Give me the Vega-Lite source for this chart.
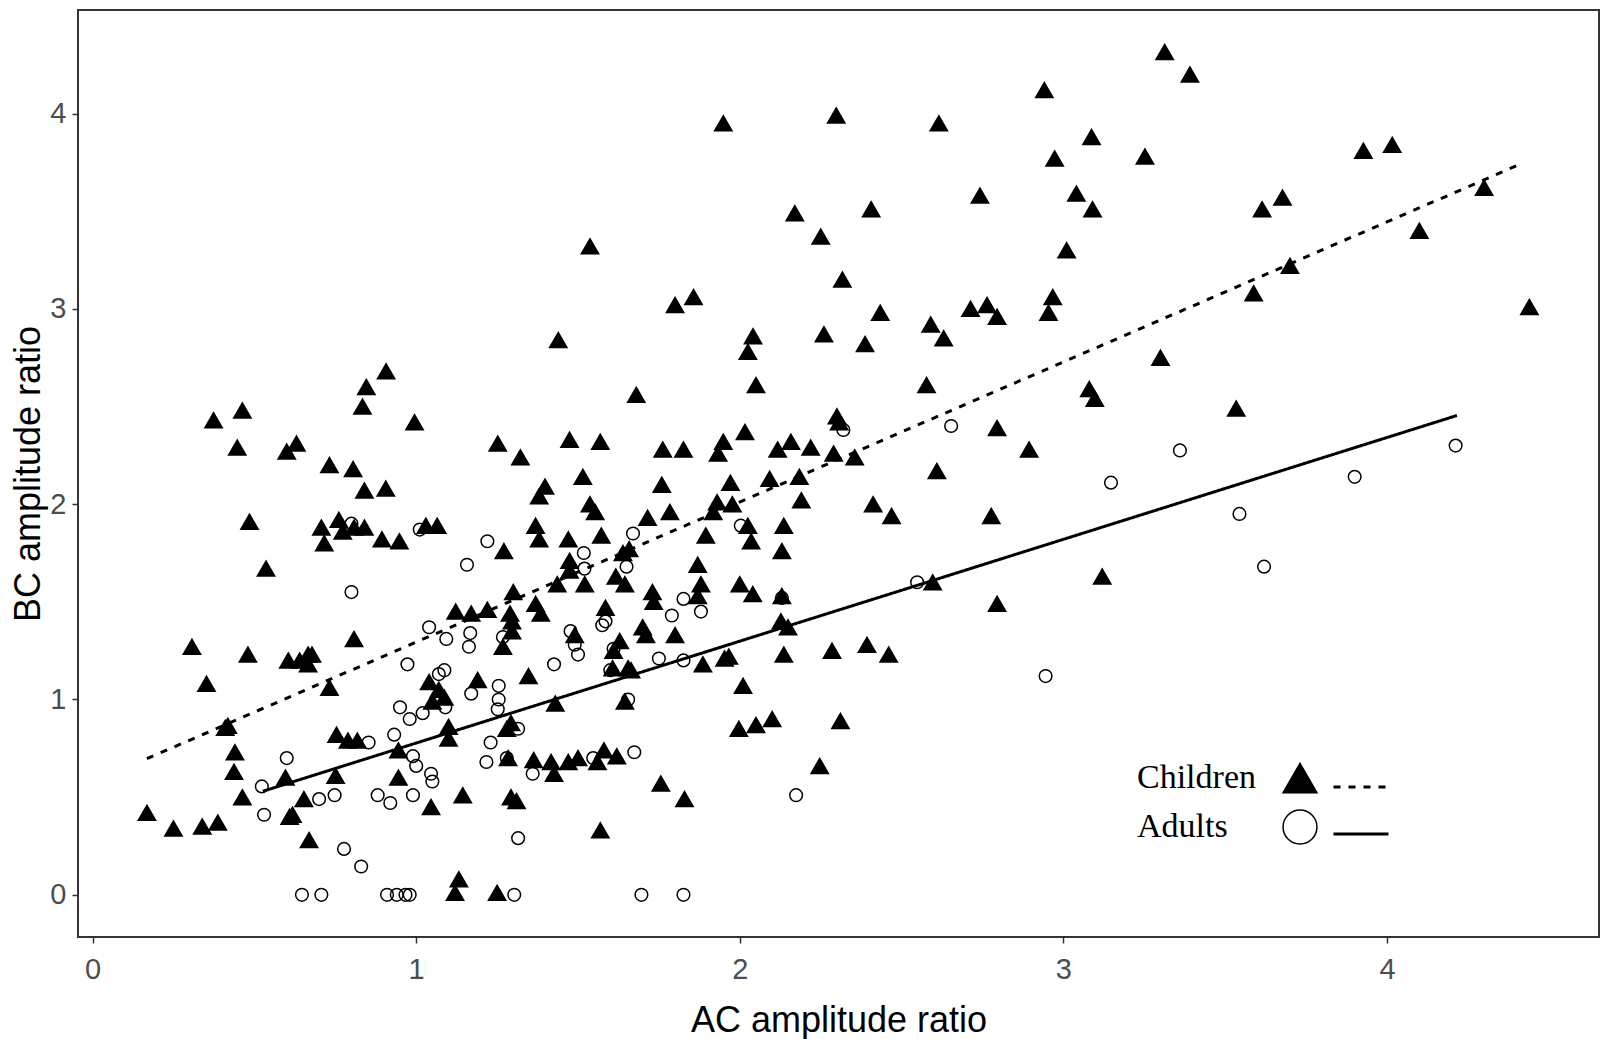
{
  "$schema": "https://vega.github.io/schema/vega-lite/v6.json",
  "width": 1521,
  "height": 927,
  "autosize": {"type": "none"},
  "padding": {"left": 78, "top": 10, "right": 10, "bottom": 102},
  "background": "white",
  "config": {
    "view": {"stroke": "#333333", "strokeWidth": 2},
    "axis": {
      "grid": false,
      "domain": false,
      "tickColor": "#333333",
      "tickWidth": 1.5,
      "tickSize": 6,
      "labelFont": "Liberation Sans",
      "labelFontSize": 29,
      "labelColor": "#4d4d4d",
      "titleFont": "Liberation Sans",
      "titleFontSize": 36,
      "titleFontWeight": "normal",
      "titleColor": "#000000"
    },
    "legend": {"padding": 0}
  },
  "datasets": {
    "pts": [
      {"group":"Children","ac":3.313,"bc":4.315},{"group":"Children","ac":3.391,"bc":4.2},{"group":"Children","ac":2.941,"bc":4.12},{"group":"Children","ac":2.298,"bc":3.99},{"group":"Children","ac":1.949,"bc":3.95},{"group":"Children","ac":2.615,"bc":3.95},{"group":"Children","ac":3.087,"bc":3.88},{"group":"Children","ac":3.927,"bc":3.81},{"group":"Children","ac":4.016,"bc":3.84},{"group":"Children","ac":3.252,"bc":3.78},{"group":"Children","ac":2.973,"bc":3.77},{"group":"Children","ac":3.677,"bc":3.57},{"group":"Children","ac":2.742,"bc":3.58},{"group":"Children","ac":3.04,"bc":3.59},{"group":"Children","ac":3.09,"bc":3.51},{"group":"Children","ac":3.614,"bc":3.51},{"group":"Children","ac":2.406,"bc":3.51},{"group":"Children","ac":2.17,"bc":3.49},{"group":"Children","ac":4.3,"bc":3.62},{"group":"Children","ac":4.1,"bc":3.4},{"group":"Children","ac":1.537,"bc":3.32},{"group":"Children","ac":3.01,"bc":3.3},{"group":"Children","ac":2.25,"bc":3.37},{"group":"Children","ac":2.317,"bc":3.15},{"group":"Children","ac":3.7,"bc":3.22},{"group":"Children","ac":3.588,"bc":3.08},{"group":"Children","ac":4.44,"bc":3.01},{"group":"Children","ac":1.857,"bc":3.06},{"group":"Children","ac":1.8,"bc":3.02},{"group":"Children","ac":2.967,"bc":3.06},{"group":"Children","ac":2.713,"bc":3.0},{"group":"Children","ac":2.764,"bc":3.02},{"group":"Children","ac":2.795,"bc":2.96},{"group":"Children","ac":2.434,"bc":2.98},{"group":"Children","ac":2.954,"bc":2.98},{"group":"Children","ac":2.59,"bc":2.92},{"group":"Children","ac":2.63,"bc":2.85},{"group":"Children","ac":2.26,"bc":2.87},{"group":"Children","ac":2.387,"bc":2.82},{"group":"Children","ac":2.041,"bc":2.86},{"group":"Children","ac":1.439,"bc":2.84},{"group":"Children","ac":3.3,"bc":2.75},{"group":"Children","ac":2.025,"bc":2.78},{"group":"Children","ac":1.68,"bc":2.56},{"group":"Children","ac":3.08,"bc":2.59},{"group":"Children","ac":3.097,"bc":2.54},{"group":"Children","ac":2.577,"bc":2.61},{"group":"Children","ac":0.907,"bc":2.68},{"group":"Children","ac":0.846,"bc":2.6},{"group":"Children","ac":2.05,"bc":2.61},{"group":"Children","ac":3.534,"bc":2.49},{"group":"Children","ac":0.834,"bc":2.5},{"group":"Children","ac":0.463,"bc":2.48},{"group":"Children","ac":0.374,"bc":2.43},{"group":"Children","ac":0.995,"bc":2.42},{"group":"Children","ac":2.3,"bc":2.45},{"group":"Children","ac":2.307,"bc":2.42},{"group":"Children","ac":2.795,"bc":2.39},{"group":"Children","ac":2.894,"bc":2.28},{"group":"Children","ac":0.447,"bc":2.29},{"group":"Children","ac":0.6,"bc":2.27},{"group":"Children","ac":0.63,"bc":2.31},{"group":"Children","ac":1.252,"bc":2.31},{"group":"Children","ac":1.322,"bc":2.24},{"group":"Children","ac":1.474,"bc":2.33},{"group":"Children","ac":1.569,"bc":2.32},{"group":"Children","ac":1.762,"bc":2.28},{"group":"Children","ac":1.826,"bc":2.28},{"group":"Children","ac":1.949,"bc":2.32},{"group":"Children","ac":1.933,"bc":2.26},{"group":"Children","ac":2.016,"bc":2.37},{"group":"Children","ac":2.117,"bc":2.28},{"group":"Children","ac":2.158,"bc":2.32},{"group":"Children","ac":2.219,"bc":2.29},{"group":"Children","ac":2.29,"bc":2.26},{"group":"Children","ac":2.355,"bc":2.24},{"group":"Children","ac":0.732,"bc":2.2},{"group":"Children","ac":0.805,"bc":2.18},{"group":"Children","ac":2.609,"bc":2.17},{"group":"Children","ac":1.515,"bc":2.14},{"group":"Children","ac":2.092,"bc":2.13},{"group":"Children","ac":2.184,"bc":2.14},{"group":"Children","ac":1.971,"bc":2.11},{"group":"Children","ac":1.759,"bc":2.1},{"group":"Children","ac":1.398,"bc":2.09},{"group":"Children","ac":1.38,"bc":2.04},{"group":"Children","ac":0.906,"bc":2.08},{"group":"Children","ac":0.84,"bc":2.07},{"group":"Children","ac":1.977,"bc":2.0},{"group":"Children","ac":1.93,"bc":2.01},{"group":"Children","ac":1.918,"bc":1.96},{"group":"Children","ac":2.412,"bc":2.0},{"group":"Children","ac":1.537,"bc":2.0},{"group":"Children","ac":1.553,"bc":1.96},{"group":"Children","ac":1.784,"bc":1.96},{"group":"Children","ac":1.715,"bc":1.93},{"group":"Children","ac":2.469,"bc":1.94},{"group":"Children","ac":2.777,"bc":1.94},{"group":"Children","ac":2.19,"bc":2.02},{"group":"Children","ac":0.485,"bc":1.91},{"group":"Children","ac":0.761,"bc":1.92},{"group":"Children","ac":0.808,"bc":1.88},{"group":"Children","ac":0.773,"bc":1.86},{"group":"Children","ac":0.707,"bc":1.88},{"group":"Children","ac":0.716,"bc":1.8},{"group":"Children","ac":0.84,"bc":1.88},{"group":"Children","ac":0.894,"bc":1.82},{"group":"Children","ac":0.948,"bc":1.81},{"group":"Children","ac":1.03,"bc":1.89},{"group":"Children","ac":1.065,"bc":1.89},{"group":"Children","ac":1.369,"bc":1.89},{"group":"Children","ac":1.38,"bc":1.82},{"group":"Children","ac":1.47,"bc":1.82},{"group":"Children","ac":1.572,"bc":1.84},{"group":"Children","ac":1.895,"bc":1.84},{"group":"Children","ac":2.025,"bc":1.89},{"group":"Children","ac":2.136,"bc":1.89},{"group":"Children","ac":2.035,"bc":1.81},{"group":"Children","ac":2.13,"bc":1.76},{"group":"Children","ac":1.658,"bc":1.77},{"group":"Children","ac":1.639,"bc":1.75},{"group":"Children","ac":1.474,"bc":1.71},{"group":"Children","ac":1.474,"bc":1.66},{"group":"Children","ac":1.617,"bc":1.63},{"group":"Children","ac":1.87,"bc":1.69},{"group":"Children","ac":1.271,"bc":1.76},{"group":"Children","ac":0.536,"bc":1.67},{"group":"Children","ac":3.12,"bc":1.63},{"group":"Children","ac":1.521,"bc":1.59},{"group":"Children","ac":1.436,"bc":1.59},{"group":"Children","ac":1.88,"bc":1.59},{"group":"Children","ac":2.0,"bc":1.59},{"group":"Children","ac":2.04,"bc":1.54},{"group":"Children","ac":1.73,"bc":1.55},{"group":"Children","ac":1.645,"bc":1.59},{"group":"Children","ac":1.3,"bc":1.55},{"group":"Children","ac":1.369,"bc":1.49},{"group":"Children","ac":1.385,"bc":1.44},{"group":"Children","ac":1.734,"bc":1.5},{"group":"Children","ac":1.122,"bc":1.45},{"group":"Children","ac":1.17,"bc":1.44},{"group":"Children","ac":1.22,"bc":1.46},{"group":"Children","ac":1.29,"bc":1.44},{"group":"Children","ac":1.296,"bc":1.4},{"group":"Children","ac":2.127,"bc":1.4},{"group":"Children","ac":2.795,"bc":1.49},{"group":"Children","ac":1.87,"bc":1.53},{"group":"Children","ac":1.585,"bc":1.47},{"group":"Children","ac":2.13,"bc":1.53},{"group":"Children","ac":2.596,"bc":1.6},{"group":"Children","ac":1.7,"bc":1.37},{"group":"Children","ac":1.71,"bc":1.33},{"group":"Children","ac":1.8,"bc":1.33},{"group":"Children","ac":1.629,"bc":1.3},{"group":"Children","ac":1.61,"bc":1.25},{"group":"Children","ac":1.49,"bc":1.33},{"group":"Children","ac":1.296,"bc":1.35},{"group":"Children","ac":1.268,"bc":1.27},{"group":"Children","ac":2.136,"bc":1.23},{"group":"Children","ac":0.808,"bc":1.31},{"group":"Children","ac":0.307,"bc":1.27},{"group":"Children","ac":0.605,"bc":1.2},{"group":"Children","ac":0.64,"bc":1.2},{"group":"Children","ac":0.666,"bc":1.23},{"group":"Children","ac":0.678,"bc":1.23},{"group":"Children","ac":0.666,"bc":1.18},{"group":"Children","ac":0.48,"bc":1.23},{"group":"Children","ac":0.352,"bc":1.08},{"group":"Children","ac":0.732,"bc":1.06},{"group":"Children","ac":1.19,"bc":1.1},{"group":"Children","ac":1.347,"bc":1.12},{"group":"Children","ac":1.607,"bc":1.16},{"group":"Children","ac":1.655,"bc":1.16},{"group":"Children","ac":1.664,"bc":1.15},{"group":"Children","ac":2.285,"bc":1.25},{"group":"Children","ac":2.393,"bc":1.28},{"group":"Children","ac":2.46,"bc":1.23},{"group":"Children","ac":1.953,"bc":1.21},{"group":"Children","ac":1.966,"bc":1.22},{"group":"Children","ac":1.886,"bc":1.18},{"group":"Children","ac":2.149,"bc":1.37},{"group":"Children","ac":2.01,"bc":1.07},{"group":"Children","ac":1.645,"bc":0.99},{"group":"Children","ac":1.43,"bc":0.98},{"group":"Children","ac":1.04,"bc":1.09},{"group":"Children","ac":1.07,"bc":1.05},{"group":"Children","ac":1.087,"bc":1.01},{"group":"Children","ac":1.05,"bc":0.99},{"group":"Children","ac":2.1,"bc":0.9},{"group":"Children","ac":2.05,"bc":0.87},{"group":"Children","ac":1.997,"bc":0.85},{"group":"Children","ac":2.311,"bc":0.89},{"group":"Children","ac":1.293,"bc":0.88},{"group":"Children","ac":1.1,"bc":0.86},{"group":"Children","ac":1.28,"bc":0.85},{"group":"Children","ac":1.1,"bc":0.8},{"group":"Children","ac":0.754,"bc":0.82},{"group":"Children","ac":0.789,"bc":0.79},{"group":"Children","ac":0.818,"bc":0.79},{"group":"Children","ac":0.418,"bc":0.865},{"group":"Children","ac":0.41,"bc":0.855},{"group":"Children","ac":1.284,"bc":0.7},{"group":"Children","ac":1.363,"bc":0.69},{"group":"Children","ac":1.417,"bc":0.68},{"group":"Children","ac":1.426,"bc":0.62},{"group":"Children","ac":1.5,"bc":0.7},{"group":"Children","ac":1.56,"bc":0.68},{"group":"Children","ac":1.58,"bc":0.74},{"group":"Children","ac":1.62,"bc":0.71},{"group":"Children","ac":1.47,"bc":0.68},{"group":"Children","ac":0.751,"bc":0.61},{"group":"Children","ac":0.596,"bc":0.6},{"group":"Children","ac":0.44,"bc":0.73},{"group":"Children","ac":0.437,"bc":0.63},{"group":"Children","ac":0.945,"bc":0.74},{"group":"Children","ac":0.945,"bc":0.6},{"group":"Children","ac":2.247,"bc":0.66},{"group":"Children","ac":1.046,"bc":0.45},{"group":"Children","ac":0.463,"bc":0.5},{"group":"Children","ac":0.618,"bc":0.41},{"group":"Children","ac":0.669,"bc":0.28},{"group":"Children","ac":0.653,"bc":0.49},{"group":"Children","ac":1.293,"bc":0.5},{"group":"Children","ac":1.31,"bc":0.48},{"group":"Children","ac":1.144,"bc":0.51},{"group":"Children","ac":1.756,"bc":0.57},{"group":"Children","ac":1.829,"bc":0.49},{"group":"Children","ac":1.569,"bc":0.33},{"group":"Children","ac":0.168,"bc":0.42},{"group":"Children","ac":0.25,"bc":0.34},{"group":"Children","ac":0.339,"bc":0.35},{"group":"Children","ac":0.387,"bc":0.37},{"group":"Children","ac":0.609,"bc":0.4},{"group":"Children","ac":1.132,"bc":0.08},{"group":"Children","ac":1.12,"bc":0.01},{"group":"Children","ac":1.25,"bc":0.01},
      {"group":"Adults","ac":0.523,"bc":0.555},{"group":"Adults","ac":0.53,"bc":0.41},{"group":"Adults","ac":0.6,"bc":0.7},{"group":"Adults","ac":0.647,"bc":0.0},{"group":"Adults","ac":0.707,"bc":0.0},{"group":"Adults","ac":0.7,"bc":0.49},{"group":"Adults","ac":0.748,"bc":0.51},{"group":"Adults","ac":0.777,"bc":0.235},{"group":"Adults","ac":0.83,"bc":0.145},{"group":"Adults","ac":0.853,"bc":0.78},{"group":"Adults","ac":0.8,"bc":1.9},{"group":"Adults","ac":0.8,"bc":1.55},{"group":"Adults","ac":0.881,"bc":0.51},{"group":"Adults","ac":0.92,"bc":0.47},{"group":"Adults","ac":0.91,"bc":0.0},{"group":"Adults","ac":0.94,"bc":0.0},{"group":"Adults","ac":0.967,"bc":0.0},{"group":"Adults","ac":0.98,"bc":0.0},{"group":"Adults","ac":0.932,"bc":0.82},{"group":"Adults","ac":0.95,"bc":0.96},{"group":"Adults","ac":0.973,"bc":1.18},{"group":"Adults","ac":0.98,"bc":0.9},{"group":"Adults","ac":0.99,"bc":0.71},{"group":"Adults","ac":1.0,"bc":0.66},{"group":"Adults","ac":0.99,"bc":0.51},{"group":"Adults","ac":1.011,"bc":1.87},{"group":"Adults","ac":1.02,"bc":0.93},{"group":"Adults","ac":1.04,"bc":1.37},{"group":"Adults","ac":1.046,"bc":0.62},{"group":"Adults","ac":1.05,"bc":0.58},{"group":"Adults","ac":1.07,"bc":1.13},{"group":"Adults","ac":1.087,"bc":1.15},{"group":"Adults","ac":1.09,"bc":0.96},{"group":"Adults","ac":1.093,"bc":1.31},{"group":"Adults","ac":1.157,"bc":1.69},{"group":"Adults","ac":1.163,"bc":1.27},{"group":"Adults","ac":1.167,"bc":1.34},{"group":"Adults","ac":1.17,"bc":1.03},{"group":"Adults","ac":1.217,"bc":0.68},{"group":"Adults","ac":1.22,"bc":1.81},{"group":"Adults","ac":1.23,"bc":0.78},{"group":"Adults","ac":1.252,"bc":0.95},{"group":"Adults","ac":1.255,"bc":1.0},{"group":"Adults","ac":1.255,"bc":1.07},{"group":"Adults","ac":1.268,"bc":1.32},{"group":"Adults","ac":1.28,"bc":0.7},{"group":"Adults","ac":1.303,"bc":0.0},{"group":"Adults","ac":1.315,"bc":0.29},{"group":"Adults","ac":1.315,"bc":0.85},{"group":"Adults","ac":1.36,"bc":0.62},{"group":"Adults","ac":1.426,"bc":1.18},{"group":"Adults","ac":1.477,"bc":1.35},{"group":"Adults","ac":1.49,"bc":1.28},{"group":"Adults","ac":1.5,"bc":1.23},{"group":"Adults","ac":1.518,"bc":1.75},{"group":"Adults","ac":1.52,"bc":1.67},{"group":"Adults","ac":1.547,"bc":0.7},{"group":"Adults","ac":1.575,"bc":1.38},{"group":"Adults","ac":1.585,"bc":1.4},{"group":"Adults","ac":1.6,"bc":1.15},{"group":"Adults","ac":1.61,"bc":1.26},{"group":"Adults","ac":1.65,"bc":1.68},{"group":"Adults","ac":1.67,"bc":1.85},{"group":"Adults","ac":1.655,"bc":1.0},{"group":"Adults","ac":1.674,"bc":0.73},{"group":"Adults","ac":1.696,"bc":0.0},{"group":"Adults","ac":1.75,"bc":1.21},{"group":"Adults","ac":1.79,"bc":1.43},{"group":"Adults","ac":1.826,"bc":1.515},{"group":"Adults","ac":1.826,"bc":1.2},{"group":"Adults","ac":1.88,"bc":1.45},{"group":"Adults","ac":1.826,"bc":0.0},{"group":"Adults","ac":2.003,"bc":1.89},{"group":"Adults","ac":2.13,"bc":1.52},{"group":"Adults","ac":2.174,"bc":0.51},{"group":"Adults","ac":2.32,"bc":2.38},{"group":"Adults","ac":2.548,"bc":1.6},{"group":"Adults","ac":2.653,"bc":2.4},{"group":"Adults","ac":2.945,"bc":1.12},{"group":"Adults","ac":3.147,"bc":2.11},{"group":"Adults","ac":3.36,"bc":2.275},{"group":"Adults","ac":3.544,"bc":1.95},{"group":"Adults","ac":3.62,"bc":1.68},{"group":"Adults","ac":3.9,"bc":2.14},{"group":"Adults","ac":4.212,"bc":2.3}
    ],
    "fits": [
      {"fit": "Children", "ac": 0.168, "bc": 0.697},
      {"fit": "Children", "ac": 4.415, "bc": 3.743},
      {"fit": "Adults", "ac": 0.526, "bc": 0.53},
      {"fit": "Adults", "ac": 4.216, "bc": 2.454}
    ]
  },
  "layer": [
    {
      "data": {"name": "pts"},
      "transform": [{"filter": "datum.group == 'Children'"}],
      "mark": {"type": "point", "strokeWidth": 1.5, "opacity": 1, "size": 300},
      "encoding": {
        "x": {
          "field": "ac", "type": "quantitative",
          "scale": {"domain": [-0.045, 4.655], "nice": false, "zero": false},
          "axis": {"values": [0, 1, 2, 3, 4], "format": "d", "title": "AC amplitude ratio", "labelPadding": 12, "titlePadding": 19}
        },
        "y": {
          "field": "bc", "type": "quantitative",
          "scale": {"domain": [-0.216, 4.53], "nice": false, "zero": false},
          "axis": {"values": [0, 1, 2, 3, 4], "format": "d", "title": "BC amplitude ratio", "labelPadding": 6, "titlePadding": 2}
        },
        "shape": {
          "field": "group", "type": "nominal",
          "scale": {"domain": ["Children", "Adults"], "range": ["triangle-up", "circle"]},
          "legend": {"title": null, "orient": "none", "legendX": 1204, "legendY": 750, "labelFont": "Liberation Serif", "labelFontSize": 34, "labelColor": "#000000", "labelAlign": "left", "labelOffset": -181, "labelLimit": 300, "symbolSize": 1150, "symbolStrokeWidth": 1.5, "rowPadding": 11}
        },
        "fill": {
          "field": "group", "type": "nominal",
          "scale": {"domain": ["Children", "Adults"], "range": ["#000000", "transparent"]},
          "legend": {"title": null, "orient": "none", "legendX": 1204, "legendY": 750, "labelFont": "Liberation Serif", "labelFontSize": 34, "labelColor": "#000000", "labelAlign": "left", "labelOffset": -181, "labelLimit": 300, "symbolSize": 1150, "symbolStrokeWidth": 1.5, "rowPadding": 11}
        },
        "stroke": {
          "field": "group", "type": "nominal",
          "scale": {"domain": ["Children", "Adults"], "range": ["#000000", "#000000"]},
          "legend": {"title": null, "orient": "none", "legendX": 1204, "legendY": 750, "labelFont": "Liberation Serif", "labelFontSize": 34, "labelColor": "#000000", "labelAlign": "left", "labelOffset": -181, "labelLimit": 300, "symbolSize": 1150, "symbolStrokeWidth": 1.5, "rowPadding": 11}
        }
      }
    },
    {
      "data": {"name": "pts"},
      "transform": [{"filter": "datum.group == 'Adults'"}],
      "mark": {"type": "point", "strokeWidth": 1.5, "opacity": 1, "size": 160},
      "encoding": {
        "x": {"field": "ac", "type": "quantitative"},
        "y": {"field": "bc", "type": "quantitative"},
        "shape": {"field": "group", "type": "nominal"},
        "fill": {"field": "group", "type": "nominal"},
        "stroke": {"field": "group", "type": "nominal"}
      }
    },
    {
      "data": {"name": "fits"},
      "mark": {"type": "line", "color": "#000000", "strokeWidth": 3, "strokeCap": "butt"},
      "encoding": {
        "x": {"field": "ac", "type": "quantitative"},
        "y": {"field": "bc", "type": "quantitative"},
        "strokeDash": {
          "field": "fit", "type": "nominal", "sort": "descending",
          "scale": {"range": [[7, 8], [1, 0]]},
          "legend": {"title": null, "orient": "none", "legendX": 1254, "legendY": 748, "symbolType": "stroke", "symbolSize": 3025, "symbolStrokeWidth": 3, "symbolStrokeColor": "#000000", "labelExpr": "''", "labelFontSize": 1, "rowPadding": 12}
        }
      }
    }
  ]
}
